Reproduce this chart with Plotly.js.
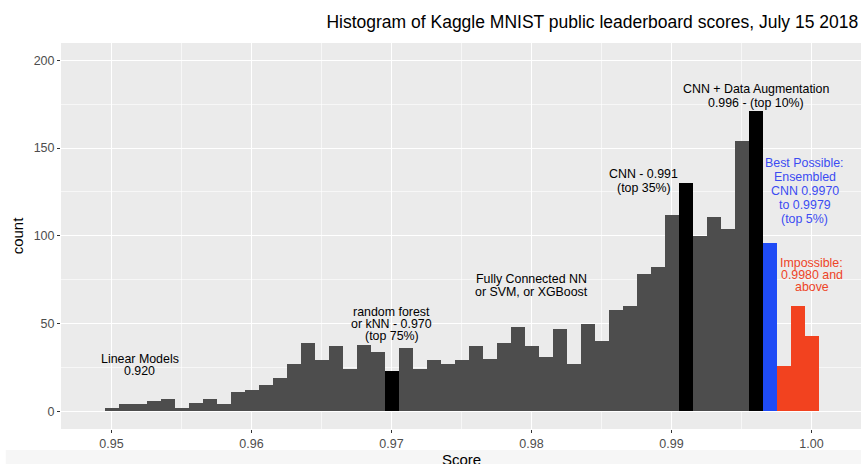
<!DOCTYPE html>
<html>
<head>
<meta charset="utf-8">
<script src="https://cdn.plot.ly/plotly-3.0.1.min.js"></script>
<style>html,body{margin:0;padding:0;background:#fff;}#chart{width:861px;height:464px;}</style>
</head>
<body>
<div id="chart"></div>
<script>
// Bin centers (score) and counts
const binCenters = [0.950,0.951,0.952,0.953,0.954,0.955,0.956,0.957,0.958,0.959,
  0.960,0.961,0.962,0.963,0.964,0.965,0.966,0.967,0.968,0.969,
  0.970,0.971,0.972,0.973,0.974,0.975,0.976,0.977,0.978,0.979,
  0.980,0.981,0.982,0.983,0.984,0.985,0.986,0.987,0.988,0.989,
  0.990,0.991,0.992,0.993,0.994,0.995,0.996,0.997,0.998,0.999,1.000];
const counts = [2,4,4,6,7,2,5,7,4,11,
  12,15,19,27,39,29,37,24,38,34,
  23,36,24,29,27,29,37,30,39,48,
  37,31,47,27,50,40,58,60,78,82,
  112,130,100,111,104,154,171,96,26,60,43];
const milestoneBins = [0.970, 0.991, 0.996];
const bestPossibleBins = [0.997];
const impossibleFrom = 0.998;
const binWidth = 0.001;
const xTicks = [0.95, 0.96, 0.97, 0.98, 0.99, 1.00];
const xTickLabels = ["0.95", "0.96", "0.97", "0.98", "0.99", "1.00"];
const yTicks = [0, 50, 100, 150, 200];

const near = (a, b) => Math.abs(a - b) < 1e-9;
const barColors = binCenters.map(c => {
  if (c >= impossibleFrom - 1e-9) return "#F2421F";
  if (bestPossibleBins.some(b => near(b, c))) return "#1F4BF5";
  if (milestoneBins.some(b => near(b, c))) return "#000000";
  return "#4D4D4D";
});

const trace = {
  type: "bar",
  x: binCenters,
  y: counts,
  width: binCenters.map(() => binWidth),
  marker: { color: barColors, line: { width: 0 } },
  hoverinfo: "x+y"
};

const font = "Liberation Sans, Arial, Helvetica, sans-serif";
// multi-line label: one annotation per line so line spacing matches the reference
function label(x, y, lines, spacing, color) {
  const n = lines.length;
  return lines.map((t, i) => ({
    x: x, y: y, xref: "x", yref: "y", text: t, showarrow: false,
    xanchor: "center", yanchor: "middle",
    yshift: -((i - (n - 1) / 2) * spacing),
    font: { family: font, size: 12.4, color: color || "#000000" }
  }));
}

const annotations = [].concat(
  label(0.952, 26.2, ["Linear Models", "0.920"], 11.8),
  label(0.970, 49.6, ["random forest", "or kNN - 0.970", "(top 75%)"], 12.2),
  label(0.980, 71.6, ["Fully Connected NN", "or SVM, or XGBoost"], 12.7),
  label(0.988, 131.2, ["CNN - 0.991", "(top 35%)"], 13.8),
  label(0.996, 179.5, ["CNN + Data Augmentation", "0.996 - (top 10%)"], 14),
  label(0.9995, 125.4, ["Best Possible:", "Ensembled", "CNN 0.9970", "to 0.9979", "(top 5%)"], 14.1, "#3B4BF2"),
  label(1.0000, 77.8, ["Impossible:", "0.9980 and", "above"], 12.2, "#EE4427")
);
// x-axis title placed as paper annotation (partly cut at the bottom, as in the reference)
annotations.push({
  xref: "paper", yref: "paper", x: 0.5, y: -0.078, xanchor: "center", yanchor: "middle",
  text: "Score", showarrow: false, font: { family: font, size: 15, color: "#000000" }
});

const layout = {
  width: 861, height: 464,
  margin: { l: 61, r: 0, t: 43, b: 35 },
  paper_bgcolor: "#FFFFFF",
  plot_bgcolor: "#EBEBEB",
  bargap: 0,
  showlegend: false,
  title: {
    text: "Histogram of Kaggle MNIST public leaderboard scores, July 15 2018",
    font: { family: font, size: 17.5, color: "#000000" },
    x: 0.9965, xanchor: "right", xref: "paper", y: 0.953, yanchor: "middle"
  },
  xaxis: {
    range: [0.946393, 1.003536],
    tickvals: xTicks, ticktext: xTickLabels,
    ticks: "outside", ticklen: 3, tickwidth: 1, tickcolor: "#333333",
    tickfont: { family: font, size: 12.5, color: "#4D4D4D" },
    showgrid: true, gridcolor: "#FFFFFF", gridwidth: 1.2,
    minor: { dtick: 0.005, tick0: 0.945, showgrid: true, gridcolor: "#FFFFFF", gridwidth: 0.6, ticks: "" },
    zeroline: false, showline: false
  },
  yaxis: {
    range: [-10.1, 209.9],
    tickvals: yTicks,
    ticks: "outside", ticklen: 3, tickwidth: 1, tickcolor: "#333333",
    tickfont: { family: font, size: 12.5, color: "#4D4D4D" },
    showgrid: true, gridcolor: "#FFFFFF", gridwidth: 1.2,
    minor: { dtick: 25, tick0: 0, showgrid: true, gridcolor: "#FFFFFF", gridwidth: 0.6, ticks: "" },
    zeroline: false, showline: false,
    title: { text: "count", font: { family: font, size: 15, color: "#000000" }, standoff: 6 }
  },
  shapes: [{
    type: "rect", xref: "paper", yref: "paper", layer: "below",
    x0: -0.069, x1: 1.0, y0: -0.0544, y1: -0.0907,
    fillcolor: "#F6F6F6", line: { width: 0 }
  }],
  annotations: annotations
};

Plotly.newPlot("chart", [trace], layout, { staticPlot: true, displayModeBar: false });
</script>
</body>
</html>
